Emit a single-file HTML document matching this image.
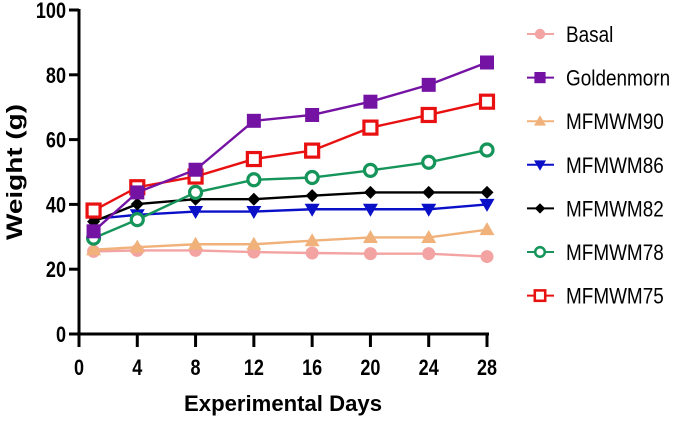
<!DOCTYPE html>
<html><head><meta charset="utf-8"><style>
body{margin:0;background:#fff;width:685px;height:422px;overflow:hidden}
text{font-family:"Liberation Sans",Arial,sans-serif}
</style></head><body>
<svg id="chart" width="685" height="422"></svg>
<script>
const days=[1,4,8,12,16,20,24,28];
const xTicks=[0,4,8,12,16,20,24,28];
const yTicks=[0,20,40,60,80,100];
const seriesNames=["Basal","Goldenmorn","MFMWM90","MFMWM86","MFMWM82","MFMWM78","MFMWM75"];
const basal=[25.5,25.8,25.8,25.3,25,24.8,24.8,23.9];
const goldenmorn=[31.7,43.7,50.7,65.8,67.6,71.7,76.9,83.8];
const mfmwm90=[26,26.8,27.7,27.7,28.8,29.8,29.8,32.2];
const mfmwm86=[35.5,36.8,37.8,37.8,38.5,38.5,38.5,40];
const mfmwm82=[34.7,40.1,41.6,41.6,42.7,43.7,43.7,43.7];
const mfmwm78=[29.6,35.3,43.7,47.6,48.3,50.5,53,56.8];
const mfmwm75=[38.1,45.3,48.6,54,56.6,63.7,67.6,71.7];
const allSeries=[basal,goldenmorn,mfmwm90,mfmwm86,mfmwm82,mfmwm78,mfmwm75];
const colors=["#f4a3a3","#7412a4","#f0b27a","#0a10c8","#000000","#16955a","#e81010"];
const markers=["circle","square","tri","tridown","diamond","ocircle","osquare"];
const NS="http://www.w3.org/2000/svg";
const svg=document.getElementById('chart');
const X0=79,X1=487,Y0=334,Y1=10;
const xs=v=>X0+(v-0)/28*(X1-X0);
const ys=v=>Y0-(v/100)*(Y0-Y1);
function mk(tag,a){const e=document.createElementNS(NS,tag);for(const k in a)e.setAttribute(k,a[k]);svg.appendChild(e);return e;}
function squeeze(t,f){const l=t.getComputedTextLength();t.setAttribute('textLength',l*f);t.setAttribute('lengthAdjust','spacingAndGlyphs');}
let ax=mk('line',{x1:X0,y1:Y0,x2:X1+2,y2:Y0,stroke:'#000','stroke-width':3});


let ay=mk('line',{x1:X0,y1:Y1-1,x2:X0,y2:Y0+1.5,stroke:'#000','stroke-width':3});


xTicks.forEach(t=>{
  mk('line',{x1:xs(t),y1:Y0,x2:xs(t),y2:Y0+13,stroke:'#000','stroke-width':3});
  const tx=mk('text',{x:xs(t),y:375,'text-anchor':'middle','font-size':22,'font-weight':'bold'});
  tx.textContent=t;
  squeeze(tx,0.82);
  
  
});
yTicks.forEach(t=>{
  mk('line',{x1:X0-10,y1:ys(t),x2:X0,y2:ys(t),stroke:'#000','stroke-width':3});
  const tx=mk('text',{x:66,y:ys(t)+8,'text-anchor':'end','font-size':22,'font-weight':'bold'});
  tx.textContent=t;
  squeeze(tx,0.82);
  
  
});
const xt=mk('text',{x:283,y:411,'text-anchor':'middle','font-size':22,'font-weight':'bold'});
xt.textContent='Experimental Days';
xt.setAttribute('textLength',198);
xt.setAttribute('lengthAdjust','spacingAndGlyphs');


const yt=mk('text',{x:0,y:0,'text-anchor':'middle','font-size':22,'font-weight':'bold',transform:'translate(22,172) rotate(-90)'});
yt.textContent='Weight (g)';
yt.setAttribute('textLength',136);
yt.setAttribute('lengthAdjust','spacingAndGlyphs');


function marker(type,x,y,c,s){
  s=s||1;let e;
  if(type=='circle')e=mk('circle',{cx:x,cy:y,r:6.5*s,fill:c});
  else if(type=='square')e=mk('rect',{x:x-7*s,y:y-7*s,width:14*s,height:14*s,fill:c});
  else if(type=='tri')e=mk('polygon',{points:`${x},${y-7.5*s} ${x+7.5*s},${y+5.5*s} ${x-7.5*s},${y+5.5*s}`,fill:c});
  else if(type=='tridown')e=mk('polygon',{points:`${x-7.5*s},${y-5.5*s} ${x+7.5*s},${y-5.5*s} ${x},${y+7.5*s}`,fill:c});
  else if(type=='diamond')e=mk('polygon',{points:`${x},${y-6.5*s} ${x+6.5*s},${y} ${x},${y+6.5*s} ${x-6.5*s},${y}`,fill:c});
  else if(type=='ocircle')e=mk('circle',{cx:x,cy:y,r:6*s,fill:'#fff',stroke:c,'stroke-width':3.2*s});
  else e=mk('rect',{x:x-6.5*s,y:y-6.5*s,width:13*s,height:13*s,fill:'#fff',stroke:c,'stroke-width':3.2*s});
  return e;
}
const order=[0,2,3,4,5,6,1];
order.forEach(i=>{
  const s=allSeries[i];
  const pl=mk('polyline',{points:s.map((v,j)=>xs(days[j])+','+ys(v)).join(' '),fill:'none',stroke:colors[i],'stroke-width':2.4});
  
  
  s.forEach((v,j)=>{
    const m=marker(markers[i],xs(days[j]),ys(v),colors[i]);
    
    
  });
});
seriesNames.forEach((n,i)=>{
  const y=34+i*43.6;
  const l=mk('line',{x1:527,y1:y,x2:554,y2:y,stroke:colors[i],'stroke-width':2});
  
  
  const m=marker(markers[i],540,y,colors[i],0.8);
  
  
  const t=mk('text',{x:566,y:y+8,'font-size':22});
  t.textContent=n;
  squeeze(t,0.86);
  
  
});
</script>
</body></html>
